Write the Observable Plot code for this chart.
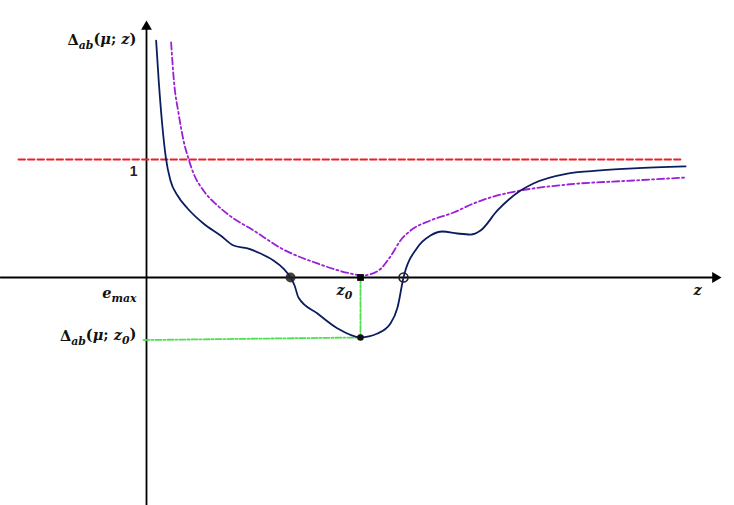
<!DOCTYPE html>
<html><head><meta charset="utf-8">
<script src="https://cdn.jsdelivr.net/npm/d3@7"></script>
<script src="https://cdn.jsdelivr.net/npm/@observablehq/plot@0.6"></script>
<style>body{margin:0;background:#fff}</style>
</head><body><div id="chart"></div>
<script>
// Navy curve Δab(μ; z)
const navyZ = [0.045,0.057,0.073,0.091,0.112,0.145,0.192,0.266,0.346,0.407,0.472,0.533,0.593,0.640,0.673,0.692,0.710,0.799,0.893,1.000,1.079,1.140,1.173,1.201,1.266,1.327,1.383,1.453,1.514,1.561,1.640,1.748,1.808,1.967,2.121,2.276,2.519];
const navyD = [2.008,1.669,1.305,1.008,0.822,0.695,0.585,0.458,0.356,0.271,0.246,0.203,0.144,0.076,0.000,-0.068,-0.169,-0.305,-0.432,-0.508,-0.475,-0.390,-0.254,0.000,0.254,0.356,0.390,0.373,0.364,0.398,0.568,0.737,0.797,0.881,0.907,0.924,0.941];
// Purple dash-dot curve
const purpZ = [0.115,0.128,0.150,0.173,0.196,0.220,0.266,0.332,0.407,0.486,0.640,0.799,0.953,1.009,1.084,1.140,1.187,1.234,1.327,1.435,1.528,1.621,1.748,1.967,2.276,2.519];
const purpD = [1.992,1.669,1.390,1.161,1.008,0.881,0.737,0.610,0.500,0.415,0.237,0.119,0.034,0.017,0.059,0.178,0.314,0.398,0.483,0.551,0.627,0.686,0.737,0.788,0.822,0.847];
// Reference level 1
const refLevel = 1, refZ = [-0.598, 2.495];
// z0 and Δab(μ; z0)
const z0 = 1.0, deltaZ0 = -0.508, greenStartZ = -0.014, greenStartD = -0.53;
// zero crossings
const crossFilled = [0.673], crossOpen = [1.201];
// axes extents
const xAxisZ = [-0.682, 2.66], yAxisD = [-1.932, 2.13];
const arrowX = 2.658, arrowY = 2.125;
// labels
const leftLabels = ["Δ_{ab}(μ; z)", "e_{max}", "Δ_{ab}(μ; z_{0})"];
const leftLabelD = [2.008, -0.136, -0.50];
const leftLabelZ = -0.047;
const axisLabels = ["z_{0}", "z"];
const axisLabelZ = [0.925, 2.575];
const axisLabelD = -0.110;
const oneLabel = "1", oneZ = -0.042, oneD = 0.898;

const navy = navyZ.map((z,i)=>({z, d:navyD[i]}));
const purp = purpZ.map((z,i)=>({z, d:purpD[i]}));
const mathFont = "DejaVu Serif";

const plot = Plot.plot({
  width: 734, height: 505,
  marginTop: 0, marginBottom: 0, marginLeft: 0, marginRight: 0,
  x: {domain: [-146/214, 588/214], axis: null},
  y: {domain: [-228/118, 277/118], axis: null},
  style: {background: "#fff"},
  marks: [
    // axes
    Plot.line([{z:xAxisZ[0],d:0},{z:xAxisZ[1],d:0}], {x:"z", y:"d", stroke:"#000", strokeWidth:1.8}),
    Plot.line([{z:0,d:yAxisD[0]},{z:0,d:yAxisD[1]}], {x:"z", y:"d", stroke:"#000", strokeWidth:1.8}),
    Plot.dot([{z:0,d:arrowY}], {x:"z", y:"d", symbol:"triangle", r:4, fill:"#000", stroke:"none"}),
    Plot.dot([{z:arrowX,d:0}], {x:"z", y:"d", symbol:"triangle", r:4, fill:"#000", stroke:"none", rotate:90}),
    // reference level
    Plot.line(refZ.map(z=>({z,d:refLevel})), {x:"z", y:"d", stroke:"#ec1f27", strokeWidth:1.9, strokeDasharray:"6.5,3"}),
    // green guides
    Plot.line([{z:greenStartZ,d:greenStartD},{z:z0,d:deltaZ0}], {x:"z", y:"d", stroke:"#4ee04e", strokeWidth:1.8, strokeDasharray:"6,2,2,2"}),
    Plot.line([{z:z0,d:0},{z:z0,d:deltaZ0}], {x:"z", y:"d", stroke:"#4ee04e", strokeWidth:1.8, strokeDasharray:"6,2,2,2"}),
    // curves
    Plot.line(purp, {x:"z", y:"d", stroke:"#9a1fd8", strokeWidth:1.8, strokeDasharray:"7,3,2,3", curve:"monotone-x"}),
    Plot.line(navy, {x:"z", y:"d", stroke:"#0b1d5e", strokeWidth:1.8, curve:"monotone-x"}),
    // points
    Plot.dot(crossFilled.map(z=>({z,d:0})), {x:"z", y:"d", r:5, fill:"#222", fillOpacity:0.85, stroke:"none"}),
    Plot.dot(crossOpen.map(z=>({z,d:0})), {x:"z", y:"d", r:4.5, fill:"none", stroke:"#222", strokeWidth:1.6}),
    Plot.dot([{z:z0,d:0}], {x:"z", y:"d", symbol:"square", r:3.8, fill:"#000", stroke:"none"}),
    Plot.dot([{z:z0,d:deltaZ0}], {x:"z", y:"d", r:3.3, fill:"#111", stroke:"none"}),
    // labels
    Plot.text([oneLabel], {x:()=>oneZ, y:()=>oneD, text:d=>d, textAnchor:"end", fontSize:14, fontWeight:"bold", fontFamily:"Liberation Sans", fill:"#222"}),
    Plot.text(leftLabels.map((t,i)=>({t, d:leftLabelD[i]})), {x:()=>leftLabelZ, y:"d", text:"t", textAnchor:"end", fontSize:14.5, fontWeight:"bold", fontStyle:"italic", fontFamily:mathFont, fill:"#111"}),
    Plot.text(axisLabels.map((t,i)=>({t, z:axisLabelZ[i]})), {x:"z", y:()=>axisLabelD, text:"t", textAnchor:"middle", fontSize:14.5, fontWeight:"bold", fontStyle:"italic", fontFamily:mathFont, fill:"#111"})
  ]
});
document.getElementById("chart").appendChild(plot);

// turn _{...} into subscripts, keep Δ ( ) ; upright
d3.select(plot).selectAll("text").each(function(){
  const s = this.textContent;
  if (!s.includes("_{")) return;
  const el = d3.select(this);
  el.text(null);
  const re = /_\{([^}]*)\}/g;
  let last = 0, m, pendingUp = false;
  const addPlain = (txt) => {
    for (const ch of txt.split(/([Δ();])/)) {
      if (!ch) continue;
      const t = el.append("tspan").text(ch);
      if (/[Δ();]/.test(ch)) t.attr("font-style","normal");
      if (pendingUp) { t.attr("dy","-0.35em"); pendingUp = false; }
    }
  };
  while ((m = re.exec(s))) {
    addPlain(s.slice(last, m.index));
    el.append("tspan").text(m[1]).attr("font-size","0.75em").attr("dy", "0.35em");
    pendingUp = true;
    last = re.lastIndex;
  }
  addPlain(s.slice(last));
});
</script>
</body></html>
